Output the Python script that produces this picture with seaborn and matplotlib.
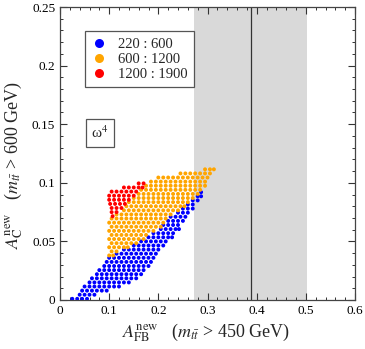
import matplotlib
matplotlib.use("Agg")
import matplotlib.pyplot as plt
from matplotlib.lines import Line2D
import seaborn as sns
import pandas as pd

# ---- data ----
blue_row_y = [0.001, 0.0045, 0.008, 0.0115, 0.015, 0.0185, 0.022, 0.0255, 0.029, 0.0325,
              0.036, 0.0395, 0.043, 0.0465, 0.050, 0.0535, 0.057, 0.0605, 0.064, 0.0675,
              0.071, 0.0745, 0.078, 0.0815, 0.085, 0.0885, 0.092]
blue_row_x = [
    [0.025, 0.035, 0.045, 0.055],
    [0.040, 0.050, 0.060, 0.070],
    [0.045, 0.055, 0.065, 0.075, 0.085, 0.095],
    [0.050, 0.060, 0.070, 0.080, 0.090, 0.100, 0.110, 0.120],
    [0.060, 0.070, 0.080, 0.090, 0.100, 0.110, 0.120, 0.130, 0.140],
    [0.065, 0.075, 0.085, 0.095, 0.105, 0.115, 0.125, 0.135, 0.145, 0.155],
    [0.075, 0.085, 0.095, 0.105, 0.115, 0.125, 0.135, 0.145, 0.155, 0.165],
    [0.080, 0.090, 0.100, 0.110, 0.120, 0.130, 0.140, 0.150, 0.160, 0.170],
    [0.090, 0.100, 0.110, 0.120, 0.130, 0.140, 0.150, 0.160, 0.170, 0.180],
    [0.095, 0.105, 0.115, 0.125, 0.135, 0.145, 0.155, 0.165, 0.175, 0.185],
    [0.100, 0.110, 0.120, 0.130, 0.140, 0.150, 0.160, 0.170, 0.180, 0.190],
    [0.115, 0.125, 0.135, 0.145, 0.155, 0.165, 0.175, 0.185, 0.195],
    [0.130, 0.140, 0.150, 0.160, 0.170, 0.180, 0.190, 0.200],
    [0.150, 0.160, 0.170, 0.180, 0.190, 0.200, 0.210],
    [0.165, 0.175, 0.185, 0.195, 0.205, 0.215],
    [0.180, 0.190, 0.200, 0.210, 0.220, 0.228],
    [0.190, 0.200, 0.210, 0.220, 0.230],
    [0.205, 0.215, 0.225, 0.235, 0.242],
    [0.210, 0.220, 0.230, 0.240],
    [0.220, 0.230, 0.240, 0.250],
    [0.225, 0.235, 0.245, 0.255],
    [0.240, 0.250, 0.260],
    [0.250, 0.260, 0.270],
    [0.260, 0.270],
    [0.270, 0.280],
    [0.280, 0.287],
    [0.287],
]

orange_row_y = [0.038, 0.0415, 0.045, 0.0485, 0.052, 0.0555, 0.059, 0.0625, 0.066, 0.0695,
                0.073, 0.0765, 0.080, 0.0835, 0.087, 0.0905, 0.094, 0.0975, 0.101, 0.1045,
                0.108, 0.1115]
orange_row_x = [
    [0.100, 0.108],
    [0.105, 0.115],
    [0.100, 0.110, 0.120, 0.130, 0.138],
    [0.105, 0.115, 0.125, 0.135, 0.145, 0.155],
    [0.100, 0.110, 0.120, 0.130, 0.140, 0.150, 0.160, 0.170],
    [0.105, 0.115, 0.125, 0.135, 0.145, 0.155, 0.165, 0.175],
    [0.100, 0.110, 0.120, 0.130, 0.140, 0.150, 0.160, 0.170, 0.180, 0.190],
    [0.105, 0.115, 0.125, 0.135, 0.145, 0.155, 0.165, 0.175, 0.185, 0.195, 0.205],
    [0.100, 0.110, 0.120, 0.130, 0.140, 0.150, 0.160, 0.170, 0.180, 0.190, 0.200, 0.210],
    [0.105, 0.115, 0.125, 0.135, 0.145, 0.155, 0.165, 0.175, 0.185, 0.195, 0.205, 0.215],
    [0.115, 0.125, 0.135, 0.145, 0.155, 0.165, 0.175, 0.185, 0.195, 0.205, 0.215, 0.225],
    [0.130, 0.140, 0.150, 0.160, 0.170, 0.180, 0.190, 0.200, 0.210, 0.220, 0.230, 0.240],
    [0.135, 0.145, 0.155, 0.165, 0.175, 0.185, 0.195, 0.205, 0.215, 0.225, 0.235, 0.245, 0.253],
    [0.140, 0.150, 0.160, 0.170, 0.180, 0.190, 0.200, 0.210, 0.220, 0.230, 0.240, 0.250, 0.260],
    [0.150, 0.160, 0.170, 0.180, 0.190, 0.200, 0.210, 0.220, 0.230, 0.240, 0.250, 0.260, 0.270],
    [0.160, 0.170, 0.180, 0.190, 0.200, 0.210, 0.220, 0.230, 0.240, 0.250, 0.260, 0.270, 0.280],
    [0.165, 0.175, 0.185, 0.195, 0.205, 0.215, 0.225, 0.235, 0.245, 0.255, 0.265, 0.275, 0.285],
    [0.175, 0.185, 0.195, 0.205, 0.215, 0.225, 0.235, 0.245, 0.255, 0.265, 0.275, 0.285, 0.295],
    [0.185, 0.195, 0.205, 0.215, 0.225, 0.235, 0.245, 0.255, 0.265, 0.275, 0.285, 0.295],
    [0.200, 0.210, 0.220, 0.230, 0.240, 0.250, 0.260, 0.270, 0.280, 0.290, 0.300],
    [0.245, 0.255, 0.265, 0.275, 0.285, 0.295, 0.305],
    [0.295, 0.305, 0.313],
]

red_row_y = [0.0715, 0.075, 0.0785, 0.082, 0.0855, 0.089, 0.0925, 0.096, 0.0995]
red_row_x = [
    [0.107],
    [0.105, 0.115],
    [0.105, 0.115, 0.125],
    [0.102, 0.112, 0.122, 0.132],
    [0.100, 0.110, 0.120, 0.130, 0.140],
    [0.100, 0.110, 0.120, 0.130, 0.140, 0.150],
    [0.105, 0.115, 0.125, 0.135, 0.145, 0.155],
    [0.130, 0.140, 0.150, 0.160, 0.168],
    [0.160, 0.170],
]

group_labels = ["220 : 600", "600 : 1200", "1200 : 1900"]
group_colors = ["#0000ff", "#ffa500", "#ff0000"]

x_ticks = [0, 0.1, 0.2, 0.3, 0.4, 0.5, 0.6]
x_ticklabels = ["0", "0.1", "0.2", "0.3", "0.4", "0.5", "0.6"]
y_ticks = [0, 0.05, 0.1, 0.15, 0.2, 0.25]
y_ticklabels = ["0", "0.05", "0.1", "0.15", "0.2", "0.25"]

band_lo, band_hi, band_center = 0.272, 0.502, 0.388

# ---- build table ----
rows = []
for label, ys, xs in zip(group_labels,
                         [blue_row_y, orange_row_y, red_row_y],
                         [blue_row_x, orange_row_x, red_row_x]):
    for yv, xrow in zip(ys, xs):
        for xv in xrow:
            rows.append((xv, yv, label))
df = pd.DataFrame(rows, columns=["afb", "ac", "range"])

# ---- style ----
sns.set_style("ticks")
plt.rcParams["font.family"] = ["Liberation Serif", "DejaVu Serif"]
plt.rcParams["mathtext.fontset"] = "stix"

fig = plt.figure(figsize=(3.65, 3.49), dpi=100)
ax = fig.add_axes([60 / 365, 1 - 300 / 349, 295 / 365, 293 / 349])

ax.axvspan(band_lo, band_hi, color="#d9d9d9", lw=0, zorder=0)
ax.axvline(band_center, color="#333333", lw=0.9, zorder=1)

sns.scatterplot(data=df, x="afb", y="ac", hue="range", hue_order=group_labels,
                palette=group_colors, s=8, linewidth=0, marker="o",
                legend=False, ax=ax, zorder=3)

ax.set_xlim(0, 0.6)
ax.set_ylim(0, 0.25)
ax.set_xticks(x_ticks)
ax.set_xticklabels(x_ticklabels)
ax.set_yticks(y_ticks)
ax.set_yticklabels(y_ticklabels)
ax.set_xticks([i * 0.02 for i in range(31)], minor=True)
ax.set_yticks([i * 0.01 for i in range(26)], minor=True)
ax.tick_params(which="both", direction="in", top=True, right=True,
               colors="#333333", labelcolor="black", labelsize=9.5)
ax.tick_params(which="major", length=5, width=0.8)
ax.tick_params(which="minor", length=2.5, width=0.7)
for sp in ax.spines.values():
    sp.set_color("#444444")
    sp.set_linewidth(0.9)

ax.set_xlabel(r"$A_{\rm FB}^{\rm new}$   ($m_{t\bar{t}}$ > 450 GeV)", fontsize=13, va="center")
ax.xaxis.set_label_coords((206 - 60) / 295, (300 - 333) / 293)
ax.set_ylabel(r"$A_{\rm C}^{\rm new}$   ($m_{t\bar{t}}$ > 600 GeV)", fontsize=13, va="center")
ax.yaxis.set_label_coords((14 - 60) / 295, (300 - 165) / 293)

handles = [Line2D([0], [0], marker="o", color="none", markerfacecolor=c,
                  markeredgecolor="none", markersize=6.5) for c in group_colors]
leg = ax.legend(handles, group_labels, loc="upper left",
                bbox_to_anchor=((85 - 60) / 295, (300 - 31) / 293),
                borderaxespad=0, fancybox=False, framealpha=1, edgecolor="#555555",
                fontsize=10.5, handlelength=1.0, handletextpad=0.8,
                labelspacing=0.12, borderpad=0.45)
leg.get_frame().set_linewidth(0.9)

ax.text((100 - 60) / 295, (300 - 133) / 293, "ω$^4$", transform=ax.transAxes,
        ha="center", va="center", fontsize=11,
        bbox=dict(boxstyle="square,pad=0.35", fc="white", ec="#555555", lw=0.9))

fig.savefig("out.png", dpi=100)
